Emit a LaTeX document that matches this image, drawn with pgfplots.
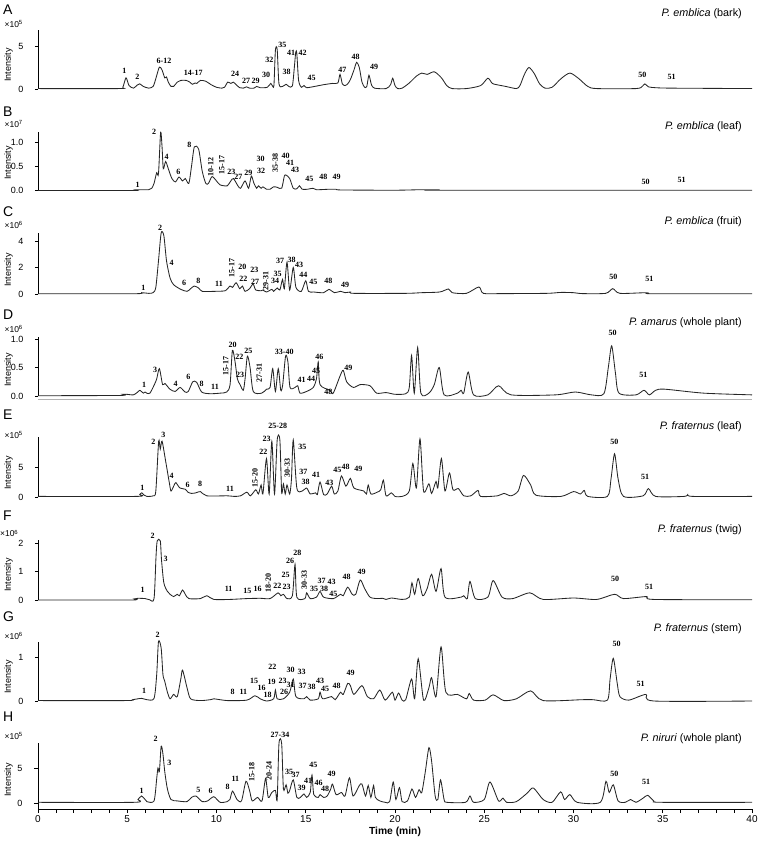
\documentclass[border=0pt]{standalone}
\usepackage{fontspec}
\setmainfont{Liberation Sans}
\newfontfamily\tnr{Liberation Serif}
\usepackage{pgfplots}
\pgfplotsset{compat=1.18}
\pgfplotsset{
  base/.style={scale only axis, width=714pt, anchor=south west,
    xmin=0, xmax=40, axis y line*=left, clip=false,
    tick align=outside, major tick length=3pt,
    y axis line style={line width=0.6pt,-}, ytick style={line width=0.6pt,black},
    yticklabel style={font=\fontsize{9}{9}\selectfont, xshift=-8pt},
    scaled y ticks=false},
  chrom/.style={base, axis x line=none},
  trace/.style={line width=0.85pt, black!85, smooth, tension=0.45, mark=none}
}
\tikzset{pk/.style={font=\tnr\bfseries\fontsize{8}{8}\selectfont, inner sep=0pt},
  ttl/.style={font=\fontsize{10.8}{11}\selectfont, anchor=east, inner sep=0pt},
  let/.style={font=\fontsize{14}{14}\selectfont, anchor=west, inner sep=0pt},
  ex/.style={font=\fontsize{8.5}{9}\selectfont, anchor=east, inner sep=0pt},
  ylab/.style={font=\fontsize{9}{9}\selectfont, rotate=90, inner sep=0pt}}
\newcommand\pk[3]{\node[pk] at (#1,#2) {#3};}
\newcommand\pv[3]{\node[pk,rotate=90] at (#1,#2) {#3};}
\begin{document}
\begin{tikzpicture}
\useasboundingbox (0,0) rectangle (759pt,-843pt);
% ---------------- A
\begin{axis}[chrom, at={(38pt,-89pt)}, height=59pt, ymin=0, ymax=6.86, ytick={0,5}, yticklabels={0,5}]
\addplot[trace] coordinates {(0,0.05) (4.5,0.05) (4.75,0.2) (4.93,1.3) (5.1,0.4) (5.35,0.1) (5.55,0.45) (5.7,0.6) (5.9,0.3) (6.2,0.1) (6.45,0.3) (6.6,1.2) (6.8,2.55) (6.95,2.2) (7.1,1.3) (7.2,1.4) (7.3,0.8) (7.45,0.3) (7.6,0.3) (7.8,0.8) (8.0,1.0) (8.3,1.0) (8.5,0.8) (8.65,0.55) (8.8,0.7) (8.9,0.65) (9.1,1.0) (9.4,0.9) (9.7,0.5) (10.0,0.2) (10.3,0.1) (10.45,0.2) (10.63,0.8) (10.8,0.65) (10.94,0.8) (11.1,0.5) (11.3,0.15) (11.5,0.1) (11.69,0.25) (11.85,0.1) (12.1,0.1) (12.25,0.3) (12.45,0.15) (12.85,0.2) (13.04,0.65) (13.15,0.3) (13.22,0.5) (13.3,4.5) (13.4,4.6) (13.5,0.6) (13.7,0.3) (13.9,0.55) (14.05,0.3) (14.25,0.35) (14.36,2.5) (14.44,4.3) (14.5,4.1) (14.6,1.0) (14.75,0.2) (14.9,0.4) (15.05,0.15) (15.5,0.3) (16.0,0.5) (16.5,0.65) (16.8,0.7) (16.92,1.7) (17.05,0.6) (17.2,0.4) (17.35,0.6) (17.5,1.1) (17.7,2.2) (17.85,3.1) (18.0,2.5) (18.15,0.8) (18.3,0.2) (18.42,0.3) (18.54,1.6) (18.68,0.5) (18.85,0.1) (19.5,0.05) (19.75,0.5) (19.87,1.25) (20.0,0.4) (20.15,0.05) (20.4,0.1) (20.8,0.7) (21.2,1.5) (21.5,1.85) (21.8,1.7) (22.2,2.0) (22.6,1.3) (22.9,0.4) (23.2,0.05) (24.0,0.05) (24.8,0.4) (25.2,1.25) (25.45,0.65) (25.7,0.5) (26.2,0.3) (26.8,0.05) (27.0,0.4) (27.25,1.7) (27.5,2.5) (27.8,1.8) (28.1,0.6) (28.4,0.1) (28.8,0.2) (29.3,1.2) (29.8,1.85) (30.3,1.2) (30.8,0.3) (31.3,0.05) (33.5,0.05) (33.85,0.3) (34.0,0.6) (34.2,0.25) (34.6,0.15) (35.5,0.1) (40,0.05)};
\end{axis}
% ---------------- B
\begin{axis}[chrom, at={(38pt,-190.7pt)}, height=58.7pt, ymin=0, ymax=1.205, ytick={0,0.5,1}, yticklabels={0.0,0.5,1.0}]
\addplot[trace] coordinates {(0,0.005) (5.3,0.005) (5.5,0.02) (5.9,0.02) (6.2,0.02) (6.37,0.05) (6.5,0.15) (6.65,0.37) (6.75,0.35) (6.87,1.2) (6.95,0.9) (7.02,0.45) (7.15,0.6) (7.3,0.45) (7.5,0.25) (7.7,0.18) (7.9,0.28) (8.1,0.2) (8.25,0.25) (8.45,0.15) (8.6,0.5) (8.76,0.9) (9.0,0.85) (9.2,0.4) (9.4,0.15) (9.55,0.15) (9.75,0.29) (10.0,0.2) (10.2,0.12) (10.6,0.1) (10.8,0.2) (10.95,0.25) (11.2,0.1) (11.35,0.05) (11.6,0.2) (11.8,0.05) (11.95,0.3) (12.1,0.15) (12.25,0.05) (12.35,0.1) (12.5,0.05) (12.6,0.08) (12.8,0.03) (13.0,0.03) (13.2,0.08) (13.4,0.07) (13.65,0.05) (13.8,0.3) (13.9,0.32) (14.1,0.25) (14.3,0.05) (14.5,0.04) (14.65,0.1) (14.8,0.03) (15.1,0.03) (15.4,0.05) (15.6,0.02) (16.3,0.03) (16.7,0.03) (17.0,0.015) (20,0.01) (21.4,0.02) (22.5,0.02) (22.6,0.01) (40,0.01)};
\end{axis}
% ---------------- C
\begin{axis}[chrom, at={(38pt,-294pt)}, height=61pt, ymin=0, ymax=4.6, ytick={0,2,4}, yticklabels={0,2,4}]
\addplot[trace] coordinates {(0,0.02) (5.4,0.02) (5.8,0.1) (6.2,0.05) (6.45,0.1) (6.6,0.5) (6.75,2.5) (6.9,4.6) (7.05,4.4) (7.2,2.5) (7.4,1.2) (7.6,0.7) (8.0,0.35) (8.35,0.2) (8.55,0.4) (8.75,0.6) (9.0,0.45) (9.2,0.2) (9.85,0.2) (10.5,0.25) (10.75,0.6) (10.9,0.5) (11.1,0.85) (11.3,0.4) (11.45,0.6) (11.6,0.2) (11.85,0.4) (12.05,0.75) (12.2,0.3) (12.5,0.25) (12.6,0.3) (12.8,0.15) (13.1,0.35) (13.2,0.2) (13.4,0.45) (13.55,0.3) (13.7,1.1) (13.8,0.4) (13.95,2.4) (14.1,0.3) (14.3,2.0) (14.45,0.5) (14.75,0.2) (15.0,1.0) (15.15,0.2) (15.45,0.15) (16.0,0.1) (16.3,0.35) (16.6,0.1) (16.95,0.2) (17.2,0.1) (17.5,0.15) (17.7,0.05) (20.6,0.05) (21.5,0.1) (22.5,0.15) (23.0,0.38) (23.2,0.1) (24.0,0.05) (24.7,0.53) (24.95,0.05) (26,0.03) (28.5,0.05) (29.3,0.12) (30.0,0.1) (30.5,0.03) (31.8,0.05) (32.2,0.4) (32.6,0.05) (34.1,0.1) (34.4,0.02) (40,0.02)};
\end{axis}
% ---------------- D
\begin{axis}[chrom, at={(38pt,-396pt)}, height=59pt, ymin=0, ymax=1.035, ytick={0,0.5,1}, yticklabels={0.0,0.5,1.0}]
\addplot[trace] coordinates {(0,0.005) (4.6,0.01) (4.78,0.03) (4.97,0.03) (5.34,0.02) (5.55,0.06) (5.71,0.1) (5.9,0.05) (6.0,0.07) (6.09,0.05) (6.27,0.05) (6.52,0.2) (6.65,0.3) (6.8,0.48) (6.98,0.2) (7.11,0.22) (7.39,0.12) (7.68,0.08) (7.96,0.15) (8.24,0.07) (8.42,0.08) (8.67,0.25) (8.89,0.24) (9.17,0.07) (9.64,0.04) (10.2,0.05) (10.57,0.07) (10.76,0.2) (10.89,0.8) (11.04,0.6) (11.17,0.3) (11.32,0.2) (11.5,0.1) (11.6,0.3) (11.73,0.7) (11.88,0.5) (12.06,0.08) (12.53,0.05) (12.81,0.12) (13.0,0.15) (13.15,0.48) (13.3,0.08) (13.46,0.48) (13.6,0.1) (13.71,0.2) (13.87,0.7) (14.0,0.6) (14.12,0.15) (14.4,0.15) (14.55,0.18) (14.68,0.05) (15.05,0.08) (15.42,0.15) (15.6,0.3) (15.7,0.6) (15.8,0.2) (16.36,0.1) (16.54,0.05) (16.92,0.35) (17.1,0.45) (17.29,0.25) (17.67,0.15) (18.04,0.2) (18.6,0.18) (18.97,0.05) (19.5,0.06) (20.0,0.03) (20.6,0.04) (20.8,0.15) (20.93,0.71) (21.08,0.05) (21.27,0.85) (21.45,0.05) (21.9,0.05) (22.2,0.2) (22.48,0.5) (22.75,0.02) (23.5,0.05) (23.7,0.1) (23.85,0.05) (24.1,0.42) (24.4,0.02) (25.2,0.02) (25.8,0.18) (26.5,0.02) (29.0,0.02) (30.1,0.07) (31.0,0.02) (31.7,0.04) (31.95,0.5) (32.14,0.88) (32.35,0.4) (32.55,0.05) (33.5,0.02) (33.95,0.1) (34.25,0.02) (34.6,0.1) (35.1,0.12) (37.3,0.05) (40,0.02)};
\end{axis}
% ---------------- E
\begin{axis}[chrom, at={(38pt,-497pt)}, height=60pt, ymin=0, ymax=10, ytick={0,5}, yticklabels={0,5}]
\addplot[trace] coordinates {(0,0.1) (5.5,0.1) (5.7,0.4) (5.81,0.7) (5.95,0.3) (6.1,0.1) (6.45,0.2) (6.6,1.0) (6.76,9.3) (6.85,8.0) (6.95,9.3) (7.15,6.0) (7.35,2.5) (7.45,1.0) (7.6,1.8) (7.72,2.4) (7.95,1.5) (8.25,1.3) (8.4,0.8) (8.6,0.6) (8.85,0.7) (9.1,0.9) (9.45,0.2) (10.6,0.2) (11.0,0.1) (11.35,0.2) (11.7,0.8) (11.9,0.2) (12.2,1.2) (12.35,0.5) (12.5,2.0) (12.6,0.5) (12.8,6.4) (12.95,0.5) (13.1,9.3) (13.25,0.5) (13.4,9.5) (13.55,9.5) (13.65,0.8) (13.75,2.2) (13.85,0.5) (13.95,2.0) (14.1,0.5) (14.2,3.0) (14.3,9.5) (14.5,1.5) (14.8,1.0) (15.05,1.5) (15.25,0.5) (15.55,0.7) (15.65,0.4) (15.8,2.5) (16.0,0.4) (16.2,0.5) (16.45,1.8) (16.6,0.5) (16.8,1.0) (17.0,3.5) (17.25,1.8) (17.5,3.1) (17.7,1.5) (18.25,1.0) (18.4,0.5) (18.5,2.0) (18.65,0.5) (19.0,0.8) (19.2,1.2) (19.35,2.8) (19.5,0.2) (19.8,0.7) (20.0,0.1) (20.4,0.1) (20.8,1.0) (21.0,5.6) (21.2,1.5) (21.4,9.7) (21.6,1.0) (21.9,2.2) (22.05,0.6) (22.3,2.6) (22.4,1.5) (22.6,6.4) (22.8,1.0) (23.05,4.0) (23.25,1.2) (23.55,1.4) (23.85,0.2) (24.25,0.2) (24.65,1.1) (24.8,0.1) (25.75,0.2) (26.1,0.6) (26.5,0.2) (26.9,1.0) (27.2,3.6) (27.6,2.0) (27.9,0.3) (29.3,0.1) (30.0,0.9) (30.4,0.5) (30.6,1.1) (30.8,0.1) (31.9,0.1) (32.1,3.0) (32.3,7.2) (32.5,3.0) (32.8,0.1) (33.9,0.2) (34.2,1.4) (34.6,0.1) (36.2,0.1) (36.4,0.4) (36.7,0.1) (40,0.1)};
\end{axis}
% ---------------- F
\begin{axis}[chrom, at={(38pt,-600pt)}, height=60pt, ymin=0, ymax=2.1, ytick={0,1,2}, yticklabels={0,1,2}]
\addplot[trace] coordinates {(0,0.0) (5.2,0.0) (5.4,0.04) (5.6,0.06) (6.0,0.05) (6.25,0.01) (6.5,0.05) (6.61,1.5) (6.68,2.07) (6.85,2.07) (6.92,1.4) (7.05,0.6) (7.25,0.3) (7.4,0.2) (7.6,0.12) (7.8,0.2) (7.92,0.15) (8.1,0.35) (8.25,0.2) (8.45,0.05) (9.1,0.05) (9.45,0.15) (9.85,0.02) (10.75,0.02) (11.7,0.05) (12.45,0.06) (13.0,0.05) (13.45,0.25) (13.6,0.15) (13.75,0.2) (13.95,0.05) (14.25,0.15) (14.4,1.25) (14.5,0.1) (14.95,0.05) (15.05,0.25) (15.25,0.05) (15.6,0.1) (15.8,0.3) (16.0,0.1) (16.55,0.05) (16.95,0.2) (17.1,0.15) (17.35,0.45) (17.6,0.2) (17.8,0.2) (18.05,0.7) (18.3,0.4) (18.6,0.1) (19.0,0.05) (19.3,0.06) (19.5,0.02) (19.8,0.07) (20.4,0.02) (20.8,0.1) (20.95,0.6) (21.1,0.2) (21.3,0.75) (21.55,0.15) (21.8,0.4) (22.05,0.9) (22.3,0.3) (22.58,1.1) (22.8,0.1) (23.7,0.1) (23.85,0.15) (24.05,0.05) (24.2,0.65) (24.5,0.05) (25.2,0.1) (25.5,0.68) (26.0,0.1) (26.6,0.05) (27.55,0.25) (28.3,0.02) (30.0,0.07) (31.3,0.02) (32.3,0.2) (32.8,0.05) (34.1,0.12) (34.5,0.02) (40,0.01)};
\end{axis}
% ---------------- G
\begin{axis}[chrom, at={(38pt,-701pt)}, height=59pt, ymin=0, ymax=1.34, ytick={0,1}, yticklabels={0,1}]
\addplot[trace] coordinates {(0,0.01) (4.9,0.01) (5.3,0.03) (5.8,0.06) (6.1,0.03) (6.5,0.06) (6.65,0.6) (6.75,1.35) (6.9,1.2) (7.0,0.6) (7.1,0.45) (7.25,0.2) (7.4,0.05) (7.6,0.15) (7.8,0.1) (8.0,0.5) (8.1,0.7) (8.35,0.3) (8.55,0.05) (9.1,0.01) (9.65,0.03) (9.85,0.05) (10.6,0.01) (11.7,0.02) (12.15,0.12) (12.45,0.05) (12.8,0.0) (13.2,0.05) (13.3,0.25) (13.4,0.05) (13.75,0.05) (14.1,0.2) (14.3,0.5) (14.45,0.1) (14.9,0.05) (15.05,0.1) (15.25,0.02) (15.7,0.05) (15.8,0.2) (15.95,0.05) (16.45,0.1) (16.65,0.03) (16.95,0.2) (17.1,0.15) (17.35,0.4) (17.5,0.35) (17.7,0.15) (18.15,0.35) (18.45,0.1) (18.8,0.05) (19.15,0.25) (19.45,0.02) (19.85,0.2) (20.0,0.02) (20.2,0.18) (20.4,0.02) (20.6,0.03) (20.93,0.5) (21.1,0.05) (21.3,0.96) (21.6,0.02) (21.9,0.3) (22.05,0.53) (22.3,0.1) (22.58,1.23) (22.85,0.2) (23.5,0.15) (24.0,0.05) (24.16,0.17) (24.4,0.02) (25.05,0.02) (25.5,0.14) (26.1,0.01) (26.8,0.05) (27.6,0.23) (28.3,0.01) (30.5,0.03) (31.1,0.03) (31.9,0.02) (32.05,0.5) (32.23,0.97) (32.45,0.4) (32.6,0.1) (33.1,0.02) (34.06,0.15) (34.5,0.0) (40,0.0)};
\end{axis}
% ---------------- H
\begin{axis}[base, at={(38pt,-809pt)}, height=66pt, ymin=-0.857, ymax=8.57, ytick={0,5}, yticklabels={0,5},
  axis x line*=bottom, x axis line style={line width=0.6pt,-},
  xtick={0,5,...,40}, xticklabels={0,5,10,15,20,25,30,35,40}, minor x tick num=4,
  minor tick length=3.5pt, major tick length=4pt,
  xtick style={line width=0.6pt,black}, minor tick style={line width=0.6pt,black},
  xticklabel style={font=\fontsize{10}{10}\selectfont, yshift=1pt},
  xlabel={\textbf{Time (min)}}, xlabel style={font=\fontsize{10.3}{10.3}\selectfont, yshift=2pt}]
\addplot[trace] coordinates {(0,0.1) (5.4,0.1) (5.6,0.5) (5.8,1.0) (6.0,0.5) (6.1,0.2) (6.5,0.3) (6.65,3.5) (6.72,5.0) (6.8,4.5) (6.9,8.1) (7.0,7.0) (7.1,4.5) (7.25,2.0) (7.45,0.5) (7.8,0.3) (8.35,0.2) (8.6,0.8) (8.85,1.0) (9.2,0.2) (9.5,0.3) (9.85,0.9) (10.2,0.1) (10.6,0.2) (10.75,0.5) (10.9,1.7) (11.15,0.5) (11.4,0.3) (11.65,3.1) (11.85,1.8) (12.0,0.3) (12.3,0.8) (12.55,0.3) (12.75,3.5) (12.9,0.8) (13.1,1.5) (13.3,1.8) (13.4,0.5) (13.5,8.5) (13.65,8.5) (13.75,2.0) (13.9,2.6) (14.0,1.4) (14.1,1.8) (14.3,3.3) (14.5,0.8) (14.7,0.8) (14.9,1.3) (15.05,0.8) (15.25,1.5) (15.35,4.0) (15.45,1.2) (15.7,0.8) (15.8,1.2) (16.0,0.8) (16.2,1.0) (16.4,2.0) (16.5,2.7) (16.7,1.2) (17.0,1.5) (17.2,1.0) (17.45,3.6) (17.65,1.0) (18.0,2.5) (18.15,2.7) (18.35,1.0) (18.5,2.5) (18.65,0.8) (18.8,2.5) (18.9,0.8) (19.15,0.3) (19.45,0.1) (19.7,0.2) (19.9,3.0) (20.05,0.5) (20.25,2.2) (20.4,0.2) (20.7,0.3) (20.95,2.0) (21.15,0.8) (21.35,1.9) (21.5,1.5) (21.7,4.5) (21.9,7.9) (22.05,6.0) (22.25,1.0) (22.4,0.5) (22.55,3.3) (22.75,0.5) (22.9,0.1) (23.95,0.1) (24.2,1.0) (24.4,0.1) (25.0,0.5) (25.32,3.0) (25.8,0.3) (26.05,0.7) (26.25,0.1) (26.8,0.2) (27.4,1.4) (27.75,2.15) (28.3,0.5) (28.8,0.1) (29.28,1.6) (29.5,0.5) (29.8,1.2) (30.2,0.1) (31.5,0.1) (31.82,3.1) (32.0,1.5) (32.23,2.6) (32.5,0.3) (32.9,0.1) (33.2,0.5) (33.5,0.1) (33.9,0.7) (34.16,1.1) (34.5,0.3) (34.9,0.1) (40,0.1)};
\end{axis}
% ---------------- annotations in pixel frame
\begin{scope}[x=1pt,y=-1pt]
\draw[black!30, line width=0.8pt] (38,399.5) -- (752,399.5);
\foreach \l/\y in {A/10,B/112,C/212,D/315,E/415,F/516,G/617,H/717} {\node[let] at (3,\y) {\l};}
\foreach \e/\x/\y in {5/23/24,7/23/124,6/23/225,6/23/329,5/23/435,6/18.5/533.5,6/23/636,5/23/736} {\node[ex] at (\x,\y) {×10\textsuperscript{\e}};}
\foreach \y in {65,163,270,370,473,575,677,780} {\node[ylab] at (8.5,\y) {Intensity};}
\node[ttl] at (742,14) {\textit{P. emblica} (bark)};
\node[ttl] at (742,127) {\textit{P. emblica} (leaf)};
\node[ttl] at (742,221.7) {\textit{P. emblica} (fruit)};
\node[ttl] at (742,322.7) {\textit{P. amarus} (whole plant)};
\node[ttl] at (742,426.7) {\textit{P. fraternus} (leaf)};
\node[ttl] at (742,530) {\textit{P. fraternus} (twig)};
\node[ttl] at (742,629) {\textit{P. fraternus} (stem)};
\node[ttl] at (742,739) {\textit{P. niruri} (whole plant)};
% A
\pk{124.3}{70.7}{1}\pk{137.3}{77.3}{2}\pk{164}{61}{6-12}\pk{193.3}{72.7}{14-17}\pk{235}{73.7}{24}\pk{246}{80.7}{27}\pk{255.7}{80.7}{29}\pk{266}{75}{30}\pk{269.3}{60}{32}\pk{282.3}{45.3}{35}\pk{286.7}{71.7}{38}\pk{291}{53}{41}\pk{302.7}{52.7}{42}\pk{311.7}{77.7}{45}\pk{342.3}{70.3}{47}\pk{355.7}{57.3}{48}\pk{374}{67.3}{49}\pk{642.3}{75}{50}\pk{671.7}{76.7}{51}
% B
\pk{137.7}{185}{1}\pk{154}{131.7}{2}\pk{166.7}{156.7}{4}\pk{178.3}{171.7}{6}\pk{189.3}{145}{8}\pv{210.7}{166.7}{10-12}\pv{221.7}{165}{15-17}\pk{231.3}{171.7}{23}\pk{238.3}{177.3}{27}\pk{248.3}{172.7}{29}\pk{260.7}{159.3}{30}\pk{261}{170.7}{32}\pv{275.3}{163.3}{35-38}\pk{285.7}{156}{40}\pk{290}{162.7}{41}\pk{295}{169.5}{43}\pk{309.3}{179.3}{45}\pk{323.3}{177.3}{48}\pk{336.7}{177.3}{49}\pk{645.7}{181.7}{50}\pk{681.7}{180}{51}
% C
\pk{143.3}{288.3}{1}\pk{160}{228.3}{2}\pk{171.7}{263.3}{4}\pk{184}{282.7}{6}\pk{198.3}{281}{8}\pk{219}{284.3}{11}\pv{231.7}{268.3}{15-17}\pk{242.3}{266.7}{20}\pk{243.3}{279}{22}\pk{254.3}{270}{23}\pk{255}{281.7}{27}\pv{265.7}{281}{29-31}\pk{275}{281}{34}\pk{277.7}{274.3}{35}\pk{280}{261}{37}\pk{291.7}{260}{38}\pk{299}{265}{43}\pk{303.3}{275}{44}\pk{313.3}{281.7}{45}\pk{328.3}{280.7}{48}\pk{345}{285}{49}\pk{613.3}{276.7}{50}\pk{649.3}{279}{51}
% D
\pk{144}{385}{1}\pk{155}{370}{3}\pk{175.7}{384.3}{4}\pk{188.3}{376.7}{6}\pk{201.7}{384.3}{8}\pk{215}{386.7}{11}\pv{225.7}{366}{15-17}\pk{232.7}{345}{20}\pk{239.3}{356.7}{22}\pk{240}{375}{23}\pk{248.3}{350.7}{25}\pv{259.3}{373.3}{27-31}\pk{284.3}{351.7}{33-40}\pk{301.7}{380}{41}\pk{311}{379.3}{44}\pk{316}{370.7}{45}\pk{319.3}{357.3}{46}\pk{328.3}{392.3}{48}\pk{348.3}{368.3}{49}\pk{612.7}{333.3}{50}\pk{643.3}{375}{51}
% E
\pk{142.3}{487.7}{1}\pk{153.3}{441.7}{2}\pk{163.3}{435}{3}\pk{171.7}{476}{4}\pk{187.7}{485}{6}\pk{200}{484}{8}\pk{230}{489}{11}\pv{255}{478.3}{15-20}\pk{263.3}{452.3}{22}\pk{266.7}{439.3}{23}\pk{277.7}{425.7}{25-28}\pv{287.3}{468.3}{30-33}\pk{302.3}{447.3}{35}\pk{303.3}{471.7}{37}\pk{305.7}{481.7}{38}\pk{316}{475}{41}\pk{329.3}{483.3}{43}\pk{337.3}{470}{45}\pk{345.7}{466.7}{48}\pk{358.3}{469}{49}\pk{614.3}{442.3}{50}\pk{645}{477.3}{51}
% F
\pk{142.7}{590}{1}\pk{152.7}{536}{2}\pk{165.7}{559.3}{3}\pk{228.7}{589.3}{11}\pk{247.3}{590.7}{15}\pk{257.7}{589.3}{16}\pv{268.3}{583.3}{18-20}\pk{277.3}{586}{22}\pk{286.7}{587.3}{23}\pk{285.7}{575}{25}\pk{290}{560.7}{26}\pk{297.3}{553.3}{28}\pv{304.3}{580}{30-33}\pk{314}{589}{35}\pk{321.7}{581}{37}\pk{324}{589}{38}\pk{331.7}{582}{43}\pk{333.3}{594}{45}\pk{346.7}{577.3}{48}\pk{361.7}{571.7}{49}\pk{615}{579.3}{50}\pk{649}{586.7}{51}
% G
\pk{144}{691}{1}\pk{157.7}{635}{2}\pk{232.7}{691.7}{8}\pk{243.3}{691.7}{11}\pk{254}{681}{15}\pk{261.7}{688.3}{16}\pk{267.7}{695}{18}\pk{271.7}{681.7}{19}\pk{272.3}{666.7}{22}\pk{282.7}{680.7}{23}\pk{284}{692.3}{26}\pk{290.7}{670}{30}\pk{290.7}{685}{31}\pk{301.7}{671.7}{33}\pk{302.7}{686}{37}\pk{311.7}{686.7}{38}\pk{320}{681}{43}\pk{325}{689}{45}\pk{336.7}{686}{48}\pk{350.7}{673.3}{49}\pk{616.7}{644.3}{50}\pk{640.7}{684}{51}
% H
\pk{141.7}{790.7}{1}\pk{155.7}{739.3}{2}\pk{169.3}{762.7}{3}\pk{198.3}{790}{5}\pk{210.7}{790.7}{6}\pk{227.7}{787.3}{8}\pk{235.3}{779}{11}\pv{251.7}{771.7}{15-18}\pv{269}{771}{20-24}\pk{280}{735}{27-34}\pk{289}{771.7}{35}\pk{295.7}{775}{37}\pk{301.5}{788}{39}\pk{308.2}{780.5}{41}\pk{313.3}{765}{45}\pk{318.5}{783}{46}\pk{325}{789}{48}\pk{331.7}{774}{49}\pk{614.3}{774.3}{50}\pk{646}{781.7}{51}
\end{scope}
\end{tikzpicture}
\end{document}
